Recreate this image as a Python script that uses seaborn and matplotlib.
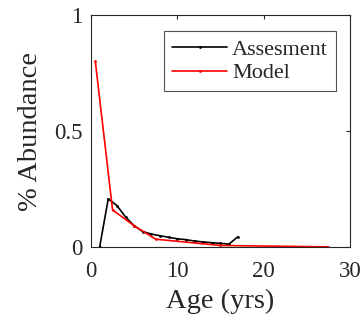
import matplotlib
matplotlib.use("Agg")
import matplotlib.pyplot as plt
import seaborn as sns
import pandas as pd

assess_age = [1, 2, 3, 4, 5, 6, 7, 8, 9, 10, 11, 12, 13, 14, 15, 16, 17]
assess_val = [0.0, 0.208, 0.179, 0.13, 0.092, 0.067, 0.056, 0.049, 0.042, 0.036,
              0.032, 0.026, 0.022, 0.019, 0.016, 0.013, 0.044]
model_age = [0.5, 2.5, 5.0, 7.5, 15.0, 27.5]
model_val = [0.80, 0.16, 0.092, 0.034, 0.007, 0.001]

sns.set_style("white")
plt.rcParams['font.family'] = ['Liberation Serif', 'DejaVu Serif']

df_a = pd.DataFrame({"Age": assess_age, "Val": assess_val})
df_m = pd.DataFrame({"Age": model_age, "Val": model_val})

fig = plt.figure(figsize=(3.63, 3.23), dpi=100)
ax = fig.add_axes([0.2507, 0.235, 0.713, 0.7186])
sns.lineplot(data=df_a, x="Age", y="Val", ax=ax, color="black", marker=".",
             markersize=4, linewidth=1.2, label="Assesment", markeredgewidth=0)
sns.lineplot(data=df_m, x="Age", y="Val", ax=ax, color="red", marker=".",
             markersize=4, linewidth=1.2, label="Model", markeredgewidth=0)

ax.set_xlim(0, 30)
ax.set_ylim(0, 1)
ax.set_xticks([0, 10, 20, 30])
ax.set_yticks([0, 0.5, 1])
ax.set_yticklabels(["0", "0.5", "1"])
ax.tick_params(direction="in", length=3, width=0.8, top=True, right=True,
               labelsize=16.5, colors="#262626")
ax.tick_params(axis="x", pad=10)
ax.tick_params(axis="y", pad=6)
for s in ax.spines.values():
    s.set_color("#262626")
    s.set_linewidth(0.8)
ax.set_xlabel("Age (yrs)", fontsize=20.5, color="#262626", labelpad=5)
ax.set_ylabel("% Abundance", fontsize=20.5, color="#262626", labelpad=8)
leg = ax.legend(loc="upper right", fontsize=16, frameon=True, fancybox=False,
                edgecolor="#262626", handlelength=2.5, handletextpad=0.2,
                borderpad=0.35, labelspacing=0.15, borderaxespad=0,
                bbox_to_anchor=(0.945, 0.93))
leg.get_frame().set_linewidth(0.8)
fig.savefig("out.png", dpi=100)
